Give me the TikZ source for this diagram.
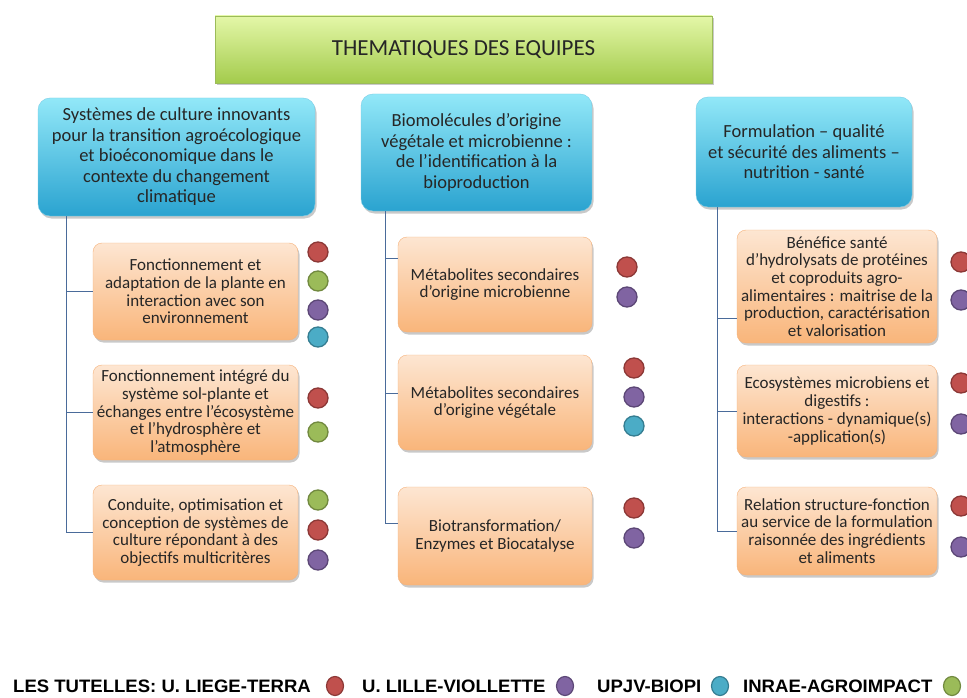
\documentclass[tikz,border=0pt]{standalone}
\usepackage{fontspec}
\setmainfont{Carlito}
\newfontfamily\legendfont[FakeStretch=1.03]{Liberation Sans}
\usetikzlibrary{shadows,shapes.geometric}
\definecolor{txt}{HTML}{262626}
\definecolor{connc}{HTML}{4A6B9A}
\definecolor{ored}{HTML}{C0504D}\definecolor{oredd}{HTML}{8C3836}
\definecolor{opur}{HTML}{8064A2}\definecolor{opurd}{HTML}{5C4776}
\definecolor{oblu}{HTML}{4BACC6}\definecolor{oblud}{HTML}{357D91}
\definecolor{ogrn}{HTML}{9BBB59}\definecolor{ogrnd}{HTML}{71893F}
\definecolor{titletop}{HTML}{E4F7A8}\definecolor{titlebot}{HTML}{A3CB4C}\definecolor{titleedge}{HTML}{9BBB59}
\definecolor{htop}{HTML}{92E8F8}\definecolor{hbot}{HTML}{2AA3D0}\definecolor{hedge}{HTML}{7ACDE6}
\definecolor{stop}{HTML}{FDE6D2}\definecolor{sbot}{HTML}{F9B57A}\definecolor{sedge}{HTML}{F6B27A}
\begin{document}
\begin{tikzpicture}[x=1pt,y=-1pt,
  base/.style={align=center, inner sep=0pt, text=txt,
    drop shadow={shadow xshift=1.5pt, shadow yshift=-2.5pt, opacity=0.35, fill=black!60}},
  titlebox/.style={base, top color=titletop, bottom color=titlebot, draw=titleedge,
    font=\fontsize{23}{27}\selectfont},
  hbox/.style={base, top color=htop, bottom color=hbot, draw=hedge, rounded corners=12pt,
    font=\fontsize{18.5}{20.5}\selectfont},
  sbox/.style={base, top color=stop, bottom color=sbot, draw=sedge, rounded corners=9pt,
    font=\fontsize{17}{17.7}\selectfont},
  conn/.style={draw=connc, line width=1pt},
  dot/.style={circle, minimum size=20pt, inner sep=0pt, line width=1.3pt},
  rdot/.style={dot, fill=ored, draw=oredd},
  pdot/.style={dot, fill=opur, draw=opurd},
  bdot/.style={dot, fill=oblu, draw=oblud},
  gdot/.style={dot, fill=ogrn, draw=ogrnd},
  ldot/.style={ellipse, minimum width=17pt, minimum height=19pt, inner sep=0pt, line width=1.2pt},
  legtxt/.style={anchor=west, inner sep=0pt, text=black, font=\legendfont\bfseries\fontsize{18}{20}\selectfont}
]
\clip (0,0) rectangle (967,698);
\fill[white] (0,0) rectangle (967,698);

% title
\node[titlebox, minimum width=497pt, minimum height=67pt] (title) at (463.5,49.5) {THEMATIQUES DES EQUIPES};

% headers
\node[hbox, minimum width=277pt, minimum height=118pt] (h1) at (176.5,157)
  {Systèmes de culture innovants\\pour la transition agroécologique\\et bioéconomique dans le\\contexte du changement\\climatique};
\node[hbox, minimum width=231pt, minimum height=117pt] (h2) at (476.5,152.5)
  {Biomolécules d’origine\\végétale et microbienne :\\de l’identification à la\\bioproduction};
\node[hbox, minimum width=216pt, minimum height=110pt] (h3) at (804,152)
  {Formulation – qualité\\et sécurité des aliments –\\nutrition - santé};

% column 1
\node[sbox, minimum width=205pt, minimum height=97pt] (c1a) at (195.5,291.5)
  {Fonctionnement et\\adaptation de la plante en\\interaction avec son\\environnement};
\node[sbox, minimum width=205pt, minimum height=95pt] (c1b) at (195.5,412.5)
  {Fonctionnement intégré du\\système sol-plante et\\échanges entre l’écosystème\\et l’hydrosphère et\\l’atmosphère};
\node[sbox, minimum width=205pt, minimum height=95pt] (c1c) at (195.5,532.5)
  {Conduite, optimisation et\\conception de systèmes de\\culture répondant à des\\objectifs multicritères};

% column 2
\node[sbox, minimum width=194pt, minimum height=95pt] (c2a) at (495,284.5)
  {Métabolites secondaires\\d’origine microbienne};
\node[sbox, minimum width=194pt, minimum height=95pt] (c2b) at (495,402.5)
  {Métabolites secondaires\\d’origine végétale};
\node[sbox, minimum width=194pt, minimum height=98pt] (c2c) at (495,536)
  {Biotransformation/\\Enzymes et Biocatalyse};

% column 3
\node[sbox, minimum width=200pt, minimum height=113pt] (c3a) at (837,286.5)
  {Bénéfice santé\\d’hydrolysats de protéines\\et coproduits agro-\\alimentaires : maitrise de la\\production, caractérisation\\et valorisation};
\node[sbox, minimum width=200pt, minimum height=92pt] (c3b) at (837,411)
  {Ecosystèmes microbiens et\\digestifs :\\interactions - dynamique(s)\\-application(s)};
\node[sbox, minimum width=200pt, minimum height=88pt] (c3c) at (837,531)
  {Relation structure-fonction\\au service de la formulation\\raisonnée des ingrédients\\et aliments};

% connectors
\coordinate (t1) at (66,216);
\coordinate (t2) at (385,211);
\coordinate (t3) at (717,207);
\draw[conn] (t1) |- (c1a.west);
\draw[conn] (t1) |- (c1b.west);
\draw[conn] (t1) |- (c1c.west);
\draw[conn] (t2) |- ([yshift=26.5pt]c2a.west);
\draw[conn] (t2) |- ([yshift=9.5pt]c2b.west);
\draw[conn] (t2) |- ([yshift=13pt]c2c.west);
\draw[conn] (t3) |- ([yshift=-31.5pt]c3a.west);
\draw[conn] (t3) |- (c3b.west);
\draw[conn] (t3) |- (c3c.west);

% dots column 1
\node[rdot] (d1a1) at (318,252) {};
\node[gdot] (d1a2) at (318,281) {};
\node[pdot] (d1a3) at (318,310) {};
\node[bdot] (d1a4) at (318,337) {};
\node[rdot] (d1b1) at (318,398) {};
\node[gdot] (d1b2) at (318,432) {};
\node[gdot] (d1c1) at (318,500) {};
\node[rdot] (d1c2) at (318,530) {};
\node[pdot] (d1c3) at (318,560) {};

% dots column 2
\node[rdot] (d2a1) at (627,267) {};
\node[pdot] (d2a2) at (627,297) {};
\node[rdot] (d2b1) at (634,368) {};
\node[pdot] (d2b2) at (634,397) {};
\node[bdot] (d2b3) at (634,426) {};
\node[rdot] (d2c1) at (634,508) {};
\node[pdot] (d2c2) at (634,538) {};

% dots column 3
\node[rdot] (d3a1) at (961,262) {};
\node[pdot] (d3a2) at (961,300) {};
\node[rdot] (d3b1) at (961,383) {};
\node[pdot] (d3b2) at (961,424) {};
\node[rdot] (d3c1) at (961,506) {};
\node[pdot] (d3c2) at (961,547) {};

% legend
\node[legtxt] (l1) at (13,686) {LES TUTELLES: U. LIEGE-TERRA};
\node[ldot, fill=ored, draw=oredd] (ld1) at (335,686) {};
\node[legtxt] (l2) at (362,686) {U. LILLE-VIOLLETTE};
\node[ldot, fill=opur, draw=opurd] (ld2) at (565,686) {};
\node[legtxt] (l3) at (597,686) {UPJV-BIOPI};
\node[ldot, fill=oblu, draw=oblud] (ld3) at (720,686) {};
\node[legtxt] (l4) at (743,686) {INRAE-AGROIMPACT};
\node[ldot, fill=ogrn, draw=ogrnd] (ld4) at (952,686) {};
\end{tikzpicture}
\end{document}
